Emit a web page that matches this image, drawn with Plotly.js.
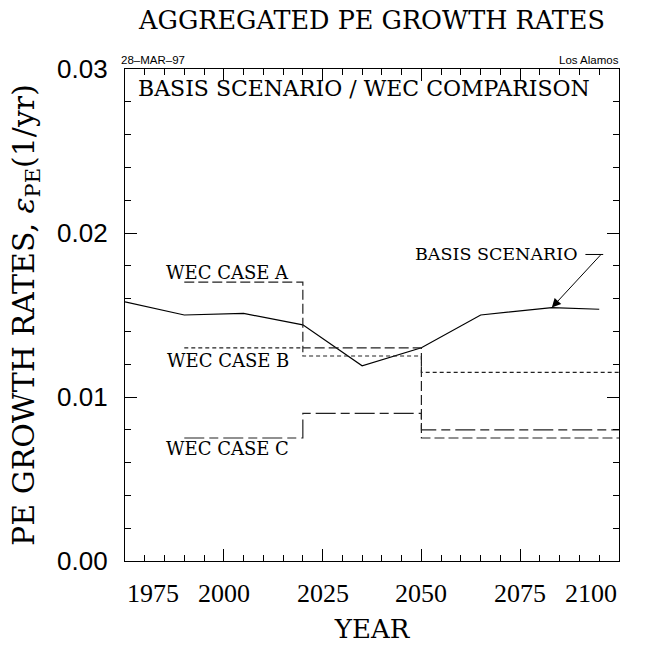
<!DOCTYPE html>
<html>
<head>
<meta charset="utf-8">
<script src="https://cdn.plot.ly/plotly-3.0.1.min.js"></script>
<style>html,body{margin:0;padding:0;background:#fff;}#chart{width:646px;height:646px;}</style>
</head>
<body>
<div id="chart"></div>
<script>
// Basis scenario (solid line)
const basisYears = [1975, 1990, 2005, 2020, 2035, 2050, 2065, 2083, 2095];
const basisRates = [0.0158, 0.0150, 0.0151, 0.0144, 0.0119, 0.0130, 0.0150, 0.01545, 0.01535];

// WEC cases (step lines, each value holds until the next year)
const wecYears = [1990, 2020, 2050, 2100];
const wecA = [0.0170, 0.0130, 0.0075, 0.0075];
const wecB = [0.0130, 0.0125, 0.0115, 0.0115];
const wecC = [0.0075, 0.0090, 0.0080, 0.0080];

// Axis ticks
const xTickVals = [1975, 2000, 2025, 2050, 2075, 2100];
const xTickText = ['1975', '2000', '2025', '2050', '2075', '2100'];
const yTickVals = [0, 0.01, 0.02, 0.03];
const yTickText = ['0.00', '0.01', '0.02', '0.03'];

// Labels
const caseLabels = ['WEC CASE A', 'WEC CASE B', 'WEC CASE C'];
const caseLabelX = [2001, 2001, 2001];
const caseLabelY = [0.0176, 0.01225, 0.00684];

const SERIF = 'DejaVu Serif, serif';
const TSERIF = 'Liberation Serif, Times New Roman, serif';
const SANS = 'Liberation Sans, Arial, sans-serif';
const ink = '#222';

const traces = [
  {x: basisYears, y: basisRates, mode: 'lines', line: {color: '#000', width: 1.2}, name: 'BASIS SCENARIO'},
  {x: wecYears, y: wecA, mode: 'lines', line: {color: ink, width: 1.2, shape: 'hv', dash: '10px,4px'}, name: caseLabels[0]},
  {x: wecYears, y: wecB, mode: 'lines', line: {color: ink, width: 1.2, shape: 'hv', dash: '4px,3px'}, name: caseLabels[1]},
  {x: wecYears, y: wecC, mode: 'lines', line: {color: ink, width: 1.2, shape: 'hv', dash: '20px,5px,9px,5px'}, name: caseLabels[2]},
  {x: [], y: [], xaxis: 'x2', yaxis: 'y2', mode: 'lines', hoverinfo: 'skip'}
];

const annotations = [];
xTickVals.forEach((v, i) => {
  annotations.push({
    x: v, xref: 'x', y: 0, yref: 'paper', yanchor: 'top', yshift: -16,
    xanchor: i === 0 ? 'left' : (i === xTickVals.length - 1 ? 'right' : 'center'),
    text: xTickText[i], showarrow: false, font: {family: TSERIF, size: 26, color: '#000'}
  });
});
caseLabels.forEach((t, i) => {
  annotations.push({x: caseLabelX[i], y: caseLabelY[i], xref: 'x', yref: 'y', text: t, showarrow: false,
    font: {family: SERIF, size: 18, color: '#000'}});
});
annotations.push({x: 2069, y: 0.01869, xref: 'x', yref: 'y', text: 'BASIS SCENARIO', showarrow: false,
  font: {family: SERIF, size: 17.5, color: '#000'}});
annotations.push({x: basisYears[7], y: basisRates[7], xref: 'x', yref: 'y', text: '', showarrow: true,
  ax: 50, ay: -54, arrowhead: 2, arrowsize: 1.8, arrowwidth: 1, arrowcolor: '#000', standoff: 0});
annotations.push({x: 0.5, y: 1, xref: 'paper', yref: 'paper', yanchor: 'top', yshift: -5, xshift: -8,
  text: 'BASIS SCENARIO / WEC COMPARISON', showarrow: false, font: {family: SERIF, size: 22, color: '#000'}});
annotations.push({x: 0, y: 1, xref: 'paper', yref: 'paper', xanchor: 'left', yanchor: 'bottom', xshift: -6, yshift: 1,
  text: '28\u2013MAR\u201397', showarrow: false, font: {family: SANS, size: 11.5, color: '#000'}});
annotations.push({x: 1, y: 1, xref: 'paper', yref: 'paper', xanchor: 'right', yanchor: 'bottom', xshift: 2, yshift: 1,
  text: 'Los Alamos', showarrow: false, font: {family: SANS, size: 11.5, color: '#000'}});

const shapes = [
  {type: 'line', xref: 'x', yref: 'y', x0: 2091.5, x1: 2096, y0: 0.01869, y1: 0.01869, line: {color: '#000', width: 1}}
];

const axisCommon = {
  showline: true, linecolor: '#000', linewidth: 1.2,
  ticks: 'inside', ticklen: 12, tickwidth: 1, tickcolor: '#000',
  showgrid: false, zeroline: false
};
const xMinor = {ticks: 'inside', ticklen: 6, tickwidth: 1, tickcolor: '#000', dtick: 5, showgrid: false};
const yMinor = {ticks: 'inside', ticklen: 6, tickwidth: 1, tickcolor: '#000', dtick: 0.002, showgrid: false};

const layout = {
  width: 646, height: 646,
  margin: {l: 125, r: 27, t: 69, b: 85, pad: 0},
  paper_bgcolor: '#fff', plot_bgcolor: '#fff',
  showlegend: false,
  title: {text: 'AGGREGATED PE GROWTH RATES', font: {family: SERIF, size: 25.5, color: '#000'},
    x: 0.5, xref: 'paper', xanchor: 'center', y: 1 - 20 / 646, yref: 'container', yanchor: 'middle'},
  xaxis: Object.assign({}, axisCommon, {
    range: [1975, 2100], tickvals: xTickVals, showticklabels: false, minor: xMinor,
    title: {text: 'YEAR', font: {family: SERIF, size: 26, color: '#000'}, standoff: 58}
  }),
  yaxis: Object.assign({}, axisCommon, {
    range: [0, 0.03], tickvals: yTickVals, ticktext: yTickText,
    tickfont: {family: SANS, size: 26, color: '#000'}, ticklabelstandoff: 11, minor: yMinor,
    title: {text: 'PE GROWTH RATES, <i>\u03b5</i><sub>PE</sub>(1/yr)', font: {family: SERIF, size: 30, color: '#000'}, standoff: 13}
  }),
  xaxis2: Object.assign({}, axisCommon, {
    overlaying: 'x', side: 'top', anchor: 'y', range: [1975, 2100], tickvals: xTickVals,
    showticklabels: false, minor: xMinor
  }),
  yaxis2: Object.assign({}, axisCommon, {
    overlaying: 'y', side: 'right', anchor: 'x', range: [0, 0.03], tickvals: yTickVals,
    showticklabels: false, minor: yMinor
  }),
  annotations: annotations,
  shapes: shapes
};

Plotly.newPlot('chart', traces, layout, {displayModeBar: false, staticPlot: true});
</script>
</body>
</html>
